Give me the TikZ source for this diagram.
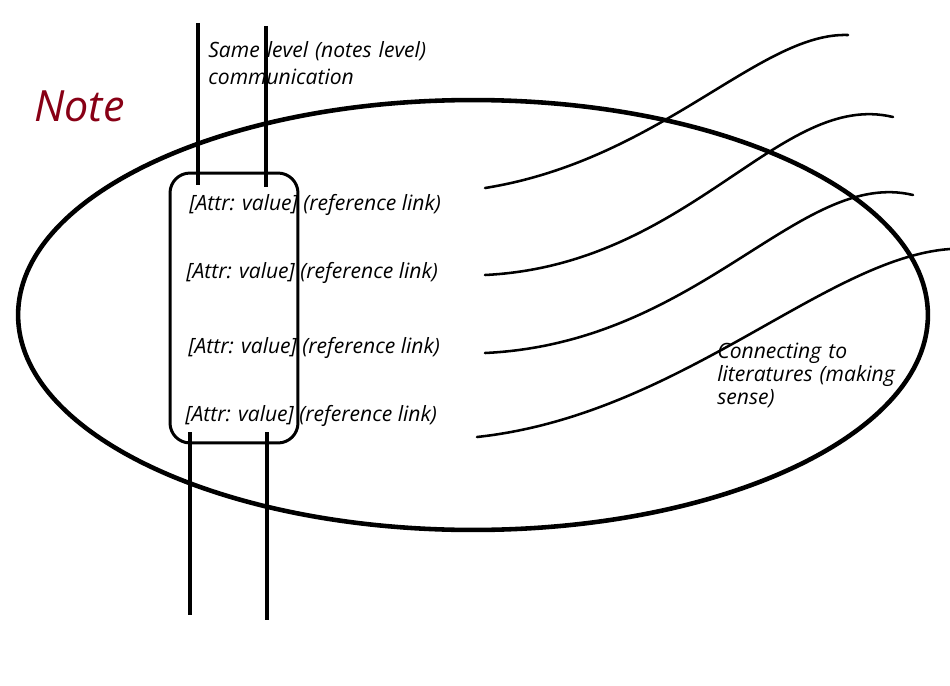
\documentclass[tikz,border=0pt]{standalone}
\usepackage{fontspec}
\setmainfont{Open Sans}
\definecolor{notered}{RGB}{136,0,21}
\begin{document}
\begin{tikzpicture}[x=0.02cm,y=-0.02cm,
  label/.style={font=\itshape\fontsize{12}{13.3}\selectfont, inner sep=0pt, anchor=base west},
  rail/.style={line width=1.8pt},
  strand/.style={line width=1.45pt, line cap=round}]
\useasboundingbox (0,0) rectangle (950,686);

% outer note ellipse
\draw[line width=2.6pt] (473,315) ellipse [x radius=9.1cm, y radius=4.3cm];

% title
\node[font=\itshape\fontsize{24.5}{26}\selectfont, text=notered, inner sep=0pt, anchor=base west] (title) at (34,122) {Note};

% attribute box
\node[draw, line width=1.7pt, rounded corners=0.4cm, minimum width=2.56cm, minimum height=5.4cm, inner sep=0pt] (box) at (234,308) {};

% attribute rows
\node[label] (r1) at (189,210) {[Attr: value] (reference link)};
\node[label] (r2) at (186,278) {[Attr: value] (reference link)};
\node[label] (r3) at (188,353) {[Attr: value] (reference link)};
\node[label] (r4) at (185,421) {[Attr: value] (reference link)};

% same-level links above and below
\coordinate (a1) at (198,23);  \coordinate (a1e) at (198,185);
\coordinate (a2) at (266,26);  \coordinate (a2e) at (266,187);
\coordinate (b1) at (190,432); \coordinate (b1e) at (190,615);
\coordinate (b2) at (267,432); \coordinate (b2e) at (267,620);
\draw[rail] (a1) -- (a1e);
\draw[rail] (a2) -- (a2e);
\draw[rail] (b1) -- (b1e);
\draw[rail] (b2) -- (b2e);

\node[label, align=left, text width=6cm, font=\itshape\fontsize{12}{15.3}\selectfont] (same) at (208,58) {Same level (notes level)\\communication};

% links out to literature
\coordinate (s1) at (485,188); \coordinate (e1) at (848,35);
\coordinate (s2) at (485,275); \coordinate (e2) at (893,117);
\coordinate (s3) at (485,353); \coordinate (e3) at (913,195);
\coordinate (s4) at (477,437); \coordinate (e4) at (950,249);
\draw[strand] (s1) .. controls (660,160) and (760,32) .. (e1);
\draw[strand] (s2) .. controls (690,265) and (780,90) .. (e2);
\draw[strand] (s3) .. controls (700,343) and (800,168) .. (e3);
\draw[strand] (s4) .. controls (680,415) and (825,258) .. (e4);

\node[label, align=left, text width=4cm] (lit) at (717,358) {Connecting to\\literatures (making\\sense)};
\end{tikzpicture}
\end{document}
